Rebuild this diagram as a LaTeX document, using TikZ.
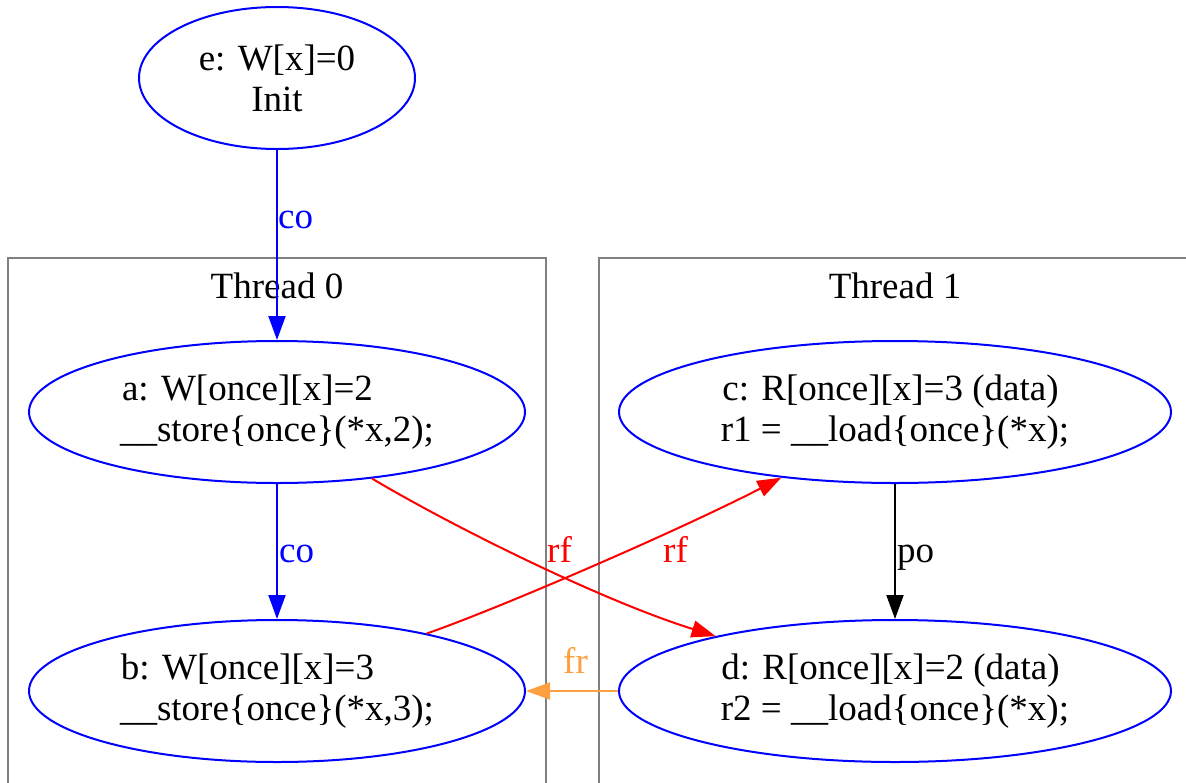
\documentclass[tikz,border=0pt]{standalone}
\usepackage{fontspec}
\setmainfont{Liberation Serif}
\usetikzlibrary{shapes.geometric,arrows.meta}
\definecolor{frorange}{RGB}{255,160,64}
\definecolor{clgray}{RGB}{128,128,128}
\tikzset{
  ev/.style={ellipse, draw=blue, line width=2pt, inner sep=0pt, align=center,
     font=\fontsize{37}{41}\selectfont},
  cluster/.style={draw=clgray, line width=2pt},
  edge/.style={line width=2pt, -{Triangle[length=24pt,width=17pt]}},
  lbl/.style={font=\fontsize{37}{41}\selectfont, inner sep=0pt, anchor=base west},
}
\begin{document}
\begin{tikzpicture}[x=1pt,y=-1pt]
\useasboundingbox (0,0) rectangle (1186,782);
\clip (0,0) rectangle (1186,782);
\fill[white] (0,0) rectangle (1186,782);
% clusters
\draw[cluster] (8,258) rectangle (546,820);
\draw[cluster] (599,258) rectangle (1220,820);
\node[lbl, anchor=base] (t0) at (277,298) {Thread 0};
\node[lbl, anchor=base] (t1) at (895,298) {Thread 1};
% nodes
\node[ev, minimum width=276pt, minimum height=142pt] (e) at (277,78) {e: W[x]=0\\Init};
\node[ev, minimum width=496pt, minimum height=142pt] (a) at (277,412) {a: W[once][x]=2\hspace*{59pt}\\\_\_store\{once\}(*x,2);};
\node[ev, minimum width=496pt, minimum height=142pt] (b) at (277,691) {b: W[once][x]=3\hspace*{59pt}\\\_\_store\{once\}(*x,3);};
\node[ev, minimum width=552pt, minimum height=142pt] (c) at (895,412) {c: R[once][x]=3 (data)\hspace*{9pt}\\r1 = \_\_load\{once\}(*x);};
\node[ev, minimum width=552pt, minimum height=142pt] (d) at (895,691) {d: R[once][x]=2 (data)\hspace*{9pt}\\r2 = \_\_load\{once\}(*x);};
% edges
\draw[edge, blue] (e.south) -- (a.north);
\draw[edge, blue] (a.south) -- (b.north);
\draw[edge, black] (c.south) -- (d.north);
\draw[edge, red] (a.-35) .. controls (450,525) and (600,600) .. (d.163);
\draw[edge, red] (b.21) .. controls (500,608) and (680,530) .. (c.-150);
\draw[edge, frorange] (d.west) -- (b.east);
% labels
\node[lbl, text=blue] (l1) at (278,228) {co};
\node[lbl, text=blue] (l2) at (279,562) {co};
\node[lbl] (l3) at (897,562) {po};
\node[lbl, text=red] (l4) at (547,562) {rf};
\node[lbl, text=red] (l5) at (663,562) {rf};
\node[lbl, text=frorange] (l6) at (563,673) {fr};
\end{tikzpicture}
\end{document}
